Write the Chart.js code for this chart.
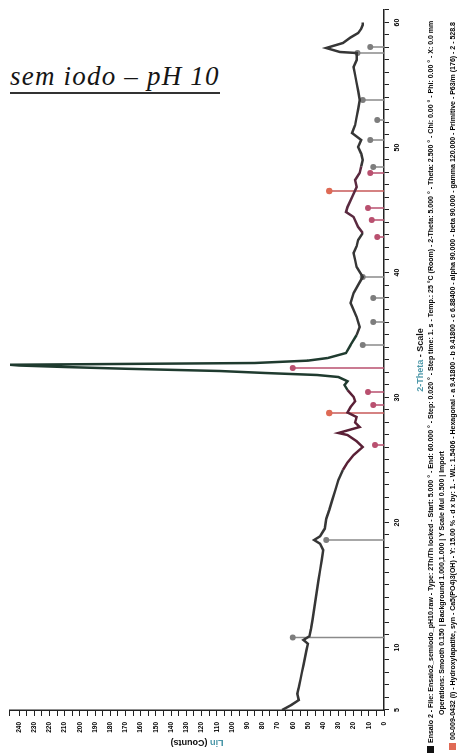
<!DOCTYPE html>
<html>
<head>
<meta charset="utf-8">
<script src="https://cdn.jsdelivr.net/npm/chart.js@4/dist/chart.umd.min.js"></script>
<style>
  html, body { margin: 0; padding: 0; background: #fff; width: 458px; height: 755px; overflow: hidden; }
  #caption {
    position: absolute; left: 10px; top: 61px;
    font: italic 27px "Liberation Serif", "Times New Roman", serif; letter-spacing: 1.2px; color: #151515;
    border-bottom: 2px solid #333; line-height: 30px; padding-bottom: 1px; white-space: nowrap;
  }
  /* the diffractogram is laid out landscape, then turned a quarter turn */
  #plot {
    position: absolute; left: 0; top: 0; width: 755px; height: 458px;
    transform-origin: 0 0; transform: translate(0, 755px) rotate(-90deg);
  }
  #plot canvas { position: absolute; left: 0; top: 0; }
  .leg { position: absolute; white-space: nowrap; font: bold 7px "Liberation Sans", Arial, sans-serif; color: #000; line-height: 9px; }
  .sq { display: inline-block; width: 7px; height: 7px; vertical-align: -1px; margin-right: 3px; }
</style>
</head>
<body>
<div id="caption">sem iodo – pH 10</div>
<div id="plot">
  <canvas id="c" width="755" height="458"></canvas>
  <div class="leg" style="left:2px; top:426px;"><span class="sq" style="background:#111"></span>Ensaio 2 - File: Ensaio2_semiodo_pH10.raw - Type: 2Th/Th locked - Start: 5.000 ° - End: 60.000 ° - Step: 0.020 ° - Step time: 1. s - Temp.: 25 °C (Room) - 2-Theta: 5.000 ° - Theta: 2.500 ° - Chi: 0.00 ° - Phi: 0.00 ° - X: 0.0 mm</div>
  <div class="leg" style="left:40px; top:437px;">Operations: Smooth 0.150 | Background 1.000,1.000 | Y Scale Mul 0.500 | Import</div>
  <div class="leg" style="left:5px; top:448px;"><span class="sq" style="background:#e06a55"></span>00-009-0432 (I) - Hydroxylapatite, syn - Ca5(PO4)3(OH) - Y: 15.00 % - d x by: 1. - WL: 1.5406 - Hexagonal - a 9.41800 - b 9.41800 - c 6.88400 - alpha 90.000 - beta 90.000 - gamma 120.000 - Primitive - P63/m (176) - 2 - 528.8</div>
</div>
<script>
// measured scan: 2-theta (deg) and counts
const twoTheta = [
  5.0, 5.4, 5.8, 6.3, 6.8, 7.4, 8.0, 8.6, 9.2, 9.8, 10.3, 10.6, 10.9, 11.5, 12.2, 13.0, 13.8, 14.6, 15.4, 16.2,
  17.0, 17.8, 18.3, 18.6, 18.9, 19.5, 20.3, 21.0, 21.8, 22.6, 23.4, 24.2, 24.8, 25.4, 26.04, 26.5,
  27.0, 27.16, 27.64, 28.0, 28.44, 28.8, 29.24, 29.7, 30.04, 30.6, 31.0, 31.3, 31.64, 31.8, 31.96, 32.12,
  32.3, 32.44, 32.56, 32.62, 32.76, 32.95, 33.16, 33.56, 34.2, 35.0, 35.64, 36.44, 37.0, 37.56, 38.36, 39.0,
  39.64, 40.44, 41.0, 41.56, 42.1, 42.6, 43.16, 43.64, 44.44, 44.84, 45.24, 46.04, 46.84, 47.4, 47.96, 48.5,
  49.0, 49.5, 50.04, 50.6, 51.16, 51.8, 52.44, 53.1, 53.8, 54.5, 55.16, 55.8, 56.44, 57.0, 57.56, 57.64,
  57.96, 58.36, 58.8, 59.16, 59.5, 59.8, 60.0
];
const counts = [
  67, 61, 56, 57, 56, 55, 54, 53, 52, 51, 50, 53, 49, 48, 47, 46, 45, 44, 43, 42,
  41, 40, 42, 46, 42, 39, 38, 36, 34, 32, 30, 27, 24, 20, 14, 18,
  24, 30, 16, 19, 18, 24, 22, 19, 20, 24, 26, 24, 30, 44, 78, 108,
  170, 210, 240, 246, 85, 50, 37, 25, 22, 18, 16, 18, 20, 22, 20, 17,
  14, 18, 19, 20, 18, 17, 14, 17, 20, 25, 24, 21, 18, 19, 16, 15,
  14, 15, 17, 15, 21, 19, 18, 17, 16, 17, 18, 19, 20, 18, 18, 29,
  38, 27, 22, 17, 15, 14, 14
];

// reference pattern A (grey sticks): position and height
const refAPos = [10.8, 18.6, 34.2, 36.04, 37.96, 39.64, 48.44, 50.6, 52.2, 53.8, 57.56, 58.04];
const refAInt = [60, 38, 14, 7, 7, 14, 7, 9, 4.5, 14, 17.5, 9];
// reference pattern B (pink sticks): position and height
const refBPos = [26.2, 29.4, 30.44, 32.36, 42.84, 44.2, 45.16, 47.96];
const refBInt = [6, 7, 10.5, 60, 4.5, 8, 10.5, 9];
// strongest lines of pattern B, drawn with a salmon head
const refCPos = [28.76, 46.52];
const refCInt = [36, 36];

// tick labels shown on each axis
const thetaLabels = [5, 10, 20, 30, 40, 50, 60];
const countLabels = [0, 10, 20, 30, 40, 50, 60, 70, 80, 90, 100, 110, 120, 130, 140, 150, 160, 170, 180, 190, 200, 210, 220, 230, 240];

const scan = twoTheta.map((t, i) => ({ x: t, y: counts[i] }));
function sticks(pos, val) {
  const pts = [];
  pos.forEach((p, i) => { pts.push({ x: p, y: 0 }, { x: p, y: val[i] }, { x: p, y: null }); });
  return pts;
}
function scanColour(t) {
  if (t >= 24.2 && t < 30.6) return '#5a2036';
  if (t >= 30.6 && t < 35.2) return '#1f3b2f';
  if (t >= 43.0 && t < 48.4) return '#5a2a40';
  return '#363636';
}
function stickSet(data, line, head, r) {
  return {
    type: 'line', data, borderColor: line, borderWidth: 1.5, spanGaps: false,
    pointRadius: c => (c.raw && c.raw.y > 0 ? r : 0), pointBackgroundColor: head, pointBorderWidth: 0,
    order: 2
  };
}

const captions = {
  id: 'captions',
  afterDraw(chart) {
    const { ctx, chartArea: a } = chart;
    ctx.save();
    ctx.font = 'bold 9px "Liberation Sans", Arial, sans-serif';
    ctx.textBaseline = 'middle';
    const p1 = '2-Theta', p2 = ' - Scale';
    const w1 = ctx.measureText(p1).width, w2 = ctx.measureText(p2).width;
    let x0 = (a.left + a.right) / 2 - (w1 + w2) / 2;
    ctx.fillStyle = '#4b97a8'; ctx.fillText(p1, x0, 421);
    ctx.fillStyle = '#111'; ctx.fillText(p2, x0 + w1, 421);
    ctx.translate(13, (a.top + a.bottom) / 2);
    ctx.rotate(-Math.PI / 2);
    const q1 = 'Lin', q2 = ' (Counts)';
    const v1 = ctx.measureText(q1).width, v2 = ctx.measureText(q2).width;
    x0 = -(v1 + v2) / 2;
    ctx.fillStyle = '#4b97a8'; ctx.fillText(q1, x0, 0);
    ctx.fillStyle = '#111'; ctx.fillText(q2, x0 + v1, 0);
    ctx.restore();
  }
};

new Chart(document.getElementById('c'), {
  type: 'line',
  data: {
    datasets: [
      {
        data: scan, borderColor: '#363636', borderWidth: 2.5, pointRadius: 0, tension: 0, order: 1,
        segment: { borderColor: c => scanColour((c.p0.parsed.x + c.p1.parsed.x) / 2) }
      },
      stickSet(sticks(refAPos, refAInt), '#8a8a8a', '#7d7d7d', 3),
      stickSet(sticks(refBPos, refBInt), '#b9506f', '#b9506f', 3),
      stickSet(sticks(refCPos, refCInt), '#c85a5a', '#de6a55', 3.2)
    ]
  },
  options: {
    responsive: false, animation: false, devicePixelRatio: 1,
    layout: { padding: { top: 5, right: 10, left: 0, bottom: 0 } },
    plugins: { legend: { display: false }, tooltip: { enabled: false } },
    scales: {
      x: {
        type: 'linear', min: 5, max: 61, position: 'bottom',
        afterFit: s => { s.height = 74; },
        border: { color: '#222', width: 1.5 },
        grid: { drawOnChartArea: false, tickLength: 5, color: '#222' },
        ticks: {
          stepSize: 1, autoSkip: false, maxRotation: 0, padding: 4, color: '#000',
          font: { size: 7, weight: 'bold', family: '"Liberation Sans", Arial, sans-serif' },
          callback: v => (thetaLabels.includes(v) ? String(v) : '')
        }
      },
      y: {
        type: 'linear', min: 0, max: 246, position: 'left',
        afterFit: s => { s.width = 45; },
        border: { color: '#222', width: 1.5 },
        grid: { drawOnChartArea: false, tickLength: 6, color: '#222' },
        ticks: {
          stepSize: 5, autoSkip: false, padding: 6, color: '#000',
          font: { size: 6.5, weight: 'bold', family: '"Liberation Sans", Arial, sans-serif' },
          callback: v => (countLabels.includes(v) ? String(v) : '')
        }
      }
    }
  },
  plugins: [captions]
});
</script>
</body>
</html>
